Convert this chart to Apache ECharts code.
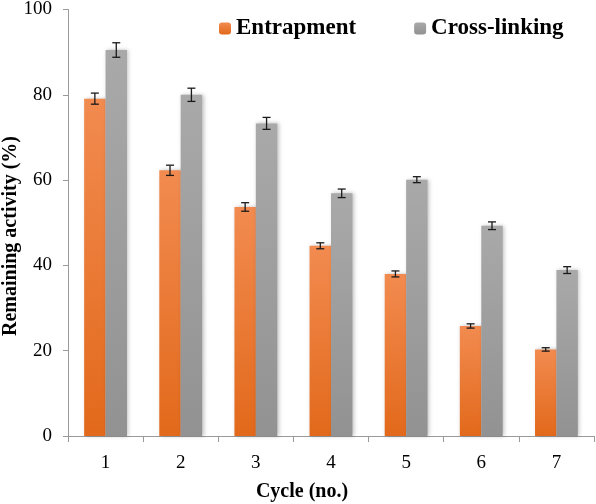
<!DOCTYPE html>
<html><head><meta charset="utf-8">
<script src="https://cdn.jsdelivr.net/npm/echarts@6/dist/echarts.min.js"></script>
<style>html,body{margin:0;padding:0;background:#fff}#c{width:596px;height:504px}</style>
</head><body><div id="c"></div>
<script>
var categories = ['1','2','3','4','5','6','7'];
var entrapment = [79.1, 62.3, 53.7, 44.6, 38.0, 25.8, 20.3];
var entrapmentErr = [1.3, 1.2, 1.0, 0.7, 0.7, 0.5, 0.4];
var crosslinking = [90.5, 80.0, 73.3, 56.9, 60.1, 49.3, 38.9];
var crosslinkingErr = [1.7, 1.55, 1.4, 1.0, 0.7, 0.9, 0.8];
var yTicks = [0, 20, 40, 60, 80, 100];
var xTitle = 'Cycle (no.)';
var yTitle = 'Remaining activity (%)';

var BAR_FRAC = 0.285;
var FONT = '"Liberation Serif", "Times New Roman", serif';

function errSeries(name, vals, errs, side) {
  var data = vals.map(function (v, i) { return [i, v - errs[i], v + errs[i]]; });
  return {
    type: 'custom', name: name + ' err', z: 10, silent: true,
    data: data,
    encode: { x: 0, y: [1, 2] },
    renderItem: function (params, api) {
      var i = api.value(0);
      var band = api.size([1, 0])[0];
      var off = side * band * BAR_FRAC / 2;
      var lo = api.coord([i, api.value(1)]);
      var hi = api.coord([i, api.value(2)]);
      var x = lo[0] + off;
      var hw = 4;
      var st = { stroke: '#1a1a1a', lineWidth: 1.3 };
      return { type: 'group', children: [
        { type: 'line', shape: { x1: x, y1: lo[1], x2: x, y2: hi[1] }, style: st },
        { type: 'line', shape: { x1: x - hw, y1: lo[1], x2: x + hw, y2: lo[1] }, style: st },
        { type: 'line', shape: { x1: x - hw, y1: hi[1], x2: x + hw, y2: hi[1] }, style: st }
      ]};
    }
  };
}

var chart = echarts.init(document.getElementById('c'));
chart.setOption({
  animation: false,
  backgroundColor: '#fff',
  grid: { left: 68, right: 2, top: 7, bottom: 68 },
  legend: {
    top: 12, left: 214, itemGap: 58, itemWidth: 12, itemHeight: 12,
    data: ['Entrapment', 'Cross-linking'],
    textStyle: { fontFamily: FONT, fontSize: 23, fontWeight: 'bold', color: '#000' }
  },
  graphic: [
    { type: 'text', x: 302, y: 492, style: { text: xTitle, fontFamily: FONT, fontSize: 20, fontWeight: 'bold', fill: '#000', align: 'center', verticalAlign: 'middle' } },
    { type: 'text', x: 11, y: 236, rotation: Math.PI / 2, style: { text: yTitle, fontFamily: FONT, fontSize: 20, fontWeight: 'bold', fill: '#000', align: 'center', verticalAlign: 'middle' } }
  ],
  xAxis: {
    type: 'category', data: categories,
    axisLine: { lineStyle: { color: '#9a9a9a', width: 1 } },
    axisTick: { show: true, length: 6, lineStyle: { color: '#9a9a9a' } },
    axisLabel: { fontFamily: FONT, fontSize: 19, color: '#000', margin: 18 }
  },
  yAxis: {
    type: 'value', min: 0, max: 100, interval: 20,
    axisLine: { show: true, lineStyle: { color: '#9a9a9a', width: 1 } },
    axisTick: { show: true, length: 5, lineStyle: { color: '#9a9a9a' } },
    splitLine: { show: false },
    axisLabel: { fontFamily: FONT, fontSize: 19, color: '#000', margin: 16,
      formatter: function (v) { return yTicks.indexOf(v) >= 0 ? String(v) : ''; } }
  },
  series: [
    { name: 'Entrapment', type: 'bar', data: entrapment, barWidth: (BAR_FRAC * 100) + '%', barGap: '0%',
      itemStyle: {
        color: new echarts.graphic.LinearGradient(0, 0, 0, 1, [
          { offset: 0, color: '#F28B50' }, { offset: 1, color: '#E2691B' }]),
        shadowBlur: 4, shadowColor: 'rgba(0,0,0,0.25)', shadowOffsetX: 1.5, shadowOffsetY: 0
      } },
    { name: 'Cross-linking', type: 'bar', data: crosslinking, barWidth: (BAR_FRAC * 100) + '%', barGap: '0%',
      itemStyle: {
        color: new echarts.graphic.LinearGradient(0, 0, 0, 1, [
          { offset: 0, color: '#A9A9A9' }, { offset: 1, color: '#929292' }]),
        shadowBlur: 4, shadowColor: 'rgba(0,0,0,0.25)', shadowOffsetX: 1.5, shadowOffsetY: 0
      } },
    errSeries('Entrapment', entrapment, entrapmentErr, -1),
    errSeries('Cross-linking', crosslinking, crosslinkingErr, 1)
  ]
});
</script></body></html>
